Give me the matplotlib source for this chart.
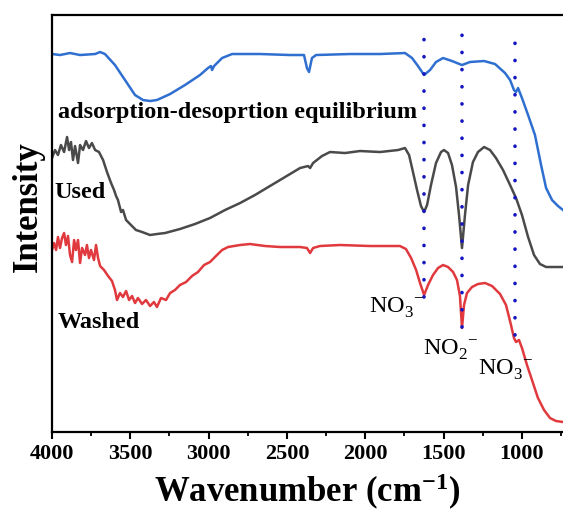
import matplotlib
matplotlib.use("Agg")
import matplotlib.pyplot as plt
from matplotlib.ticker import MultipleLocator

plt.rcParams['font.family'] = ['Liberation Serif', 'DejaVu Serif']
plt.rcParams['mathtext.fontset'] = 'custom'
plt.rcParams['mathtext.rm'] = 'Liberation Serif'
plt.rcParams['mathtext.default'] = 'regular'

# wavenumber (cm-1) / intensity (offset, arbitrary units)
eq_wn = [4000, 3949, 3885, 3821, 3725, 3693, 3662, 3598, 3534, 3470, 3419, 3374, 3330,
         3246, 3151, 3055, 3004, 2985, 2978, 2965, 2914, 2850, 2672, 2480, 2391, 2372,
         2359, 2340, 2314, 2097, 1905, 1746, 1701, 1663, 1624, 1586, 1548, 1503, 1446,
         1382, 1331, 1241, 1171, 1107, 1075, 1050, 1037, 1024, 999, 960, 916, 877, 845,
         807, 769, 737]
eq_int = [378, 377, 379, 377, 378, 380, 378, 367, 352, 337, 332, 331, 332,
          338, 347, 357, 364, 366, 362, 366, 374, 378, 378, 377, 377, 364,
          360, 374, 377, 378, 378, 379, 374, 366, 357, 362, 370, 374, 371,
          367, 370, 371, 368, 359, 352, 342, 340, 344, 334, 317, 297, 267, 244,
          232, 226, 222]

used_wn = [4000, 3981, 3962, 3943, 3923, 3904, 3891, 3879, 3866, 3853, 3834, 3821, 3802,
           3783, 3764, 3745, 3725, 3700, 3674, 3649, 3623, 3604, 3591, 3579, 3559, 3547,
           3527, 3502, 3464, 3425, 3374, 3330, 3278, 3183, 3087, 2991, 2895, 2799, 2704,
           2608, 2512, 2416, 2365, 2352, 2333, 2276, 2225, 2129, 2033, 1905, 1790, 1746,
           1720, 1695, 1669, 1644, 1624, 1605, 1580, 1548, 1516, 1497, 1471, 1446, 1420,
           1401, 1382, 1363, 1343, 1312, 1280, 1241, 1203, 1165, 1120, 1075, 1037, 999,
           960, 922, 884, 845, 737]
used_int = [274, 282, 277, 287, 280, 295, 282, 290, 272, 286, 269, 287, 282,
            291, 284, 289, 282, 280, 272, 260, 249, 242, 236, 232, 220, 222,
            212, 208, 202, 200, 197, 198, 199, 203, 208, 214, 222, 229, 237,
            246, 255, 264, 266, 264, 269, 276, 280, 279, 281, 280, 282, 284,
            277, 260, 242, 226, 220, 227, 247, 269, 280, 282, 279, 267, 245,
            217, 184, 217, 247, 270, 280, 285, 282, 274, 262, 247, 234, 217,
            195, 177, 168, 165, 165]

washed_wn = [4000, 3987, 3974, 3962, 3949, 3936, 3923, 3911, 3898, 3885, 3872, 3859, 3847,
             3834, 3821, 3808, 3789, 3777, 3764, 3751, 3732, 3719, 3706, 3693, 3668, 3642,
             3617, 3598, 3585, 3566, 3547, 3527, 3508, 3489, 3470, 3451, 3425, 3400, 3374,
             3349, 3330, 3304, 3272, 3246, 3215, 3183, 3144, 3106, 3068, 3029, 2991, 2953,
             2914, 2876, 2799, 2736, 2640, 2544, 2416, 2372, 2352, 2333, 2289, 2161, 1969,
             1778, 1740, 1707, 1675, 1650, 1624, 1599, 1567, 1535, 1503, 1471, 1439, 1414,
             1395, 1382, 1369, 1350, 1318, 1280, 1235, 1190, 1139, 1101, 1069, 1050, 1037,
             1018, 999, 967, 935, 897, 858, 820, 782, 737]
washed_int = [182, 189, 182, 195, 184, 194, 199, 187, 196, 177, 170, 192, 182,
              192, 169, 184, 177, 187, 174, 182, 172, 187, 174, 166, 162, 156,
              151, 142, 132, 139, 135, 141, 132, 136, 129, 134, 128, 132, 126,
              130, 125, 134, 132, 139, 142, 147, 150, 156, 160, 167, 170, 176,
              182, 185, 187, 188, 186, 185, 185, 184, 179, 184, 186, 187, 186,
              186, 183, 174, 162, 149, 137, 147, 157, 164, 167, 165, 160, 152,
              136, 104, 127, 139, 145, 148, 149, 146, 138, 127, 107, 94, 90,
              92, 84, 67, 52, 34, 22, 14, 11, 10]

# marked bands: (wavenumber, top, bottom)
band_wn = [1624, 1382, 1043]
band_top = [394, 401, 393]
band_bottom = [135, 105, 97]

fig = plt.figure(figsize=(5.63, 5.11), dpi=100)
ax = fig.add_axes([0.0924, 0.1546, 0.9076, 0.816])

ax.plot(eq_wn, eq_int, color='#2f6fd0', lw=1.8)
ax.plot(used_wn, used_int, color='#4a4a4a', lw=1.8)
ax.plot(washed_wn, washed_int, color='#e0393e', lw=1.8)

for wn, top, bot in zip(band_wn, band_top, band_bottom):
    ax.plot([wn, wn], [bot, top], color='#1414c0', lw=2.6,
            linestyle=(0, (0.05, 4.7)), dash_capstyle='round')

ax.text(3962, 320, 'adsorption-desoprtion equilibrium', fontsize=17.5,
        fontweight='bold', ha='left', va='center')
ax.text(3987, 240, 'Used', fontsize=17.5, fontweight='bold', ha='left', va='center')
ax.text(3962, 110, 'Washed', fontsize=17.5, fontweight='bold', ha='left', va='center')
ax.text(1975, 124, r'NO$_3^{\,\,-}$', fontsize=17.5, ha='left', va='center')
ax.text(1630, 82, r'NO$_2^{\,\,-}$', fontsize=17.5, ha='left', va='center')
ax.text(1280, 62, r'NO$_3^{\,\,-}$', fontsize=17.5, ha='left', va='center')

ax.set_xlim(4000, 737)
ax.set_ylim(0, 417)
ax.set_yticks([])
ax.xaxis.set_major_locator(MultipleLocator(500))
ax.xaxis.set_minor_locator(MultipleLocator(250))
ax.tick_params(axis='x', which='major', direction='out', length=5, width=1.5,
               labelsize=16, pad=4)
ax.tick_params(axis='x', which='minor', direction='out', length=3, width=1.3)
for lab in ax.get_xticklabels():
    lab.set_fontweight('bold')

for side in ['left', 'bottom', 'top']:
    ax.spines[side].set_linewidth(1.6)
ax.spines['right'].set_visible(False)

ax.set_xlabel(r'Wavenumber (cm$^{-1}$)', fontsize=25, fontweight='bold')
ax.xaxis.set_label_coords(0.5, -0.095)
ax.text(-0.047, 0.54, 'Intensity', transform=ax.transAxes, rotation=90,
        fontsize=25, fontweight='bold', ha='center', va='center')

fig.savefig('out.png', dpi=100)
